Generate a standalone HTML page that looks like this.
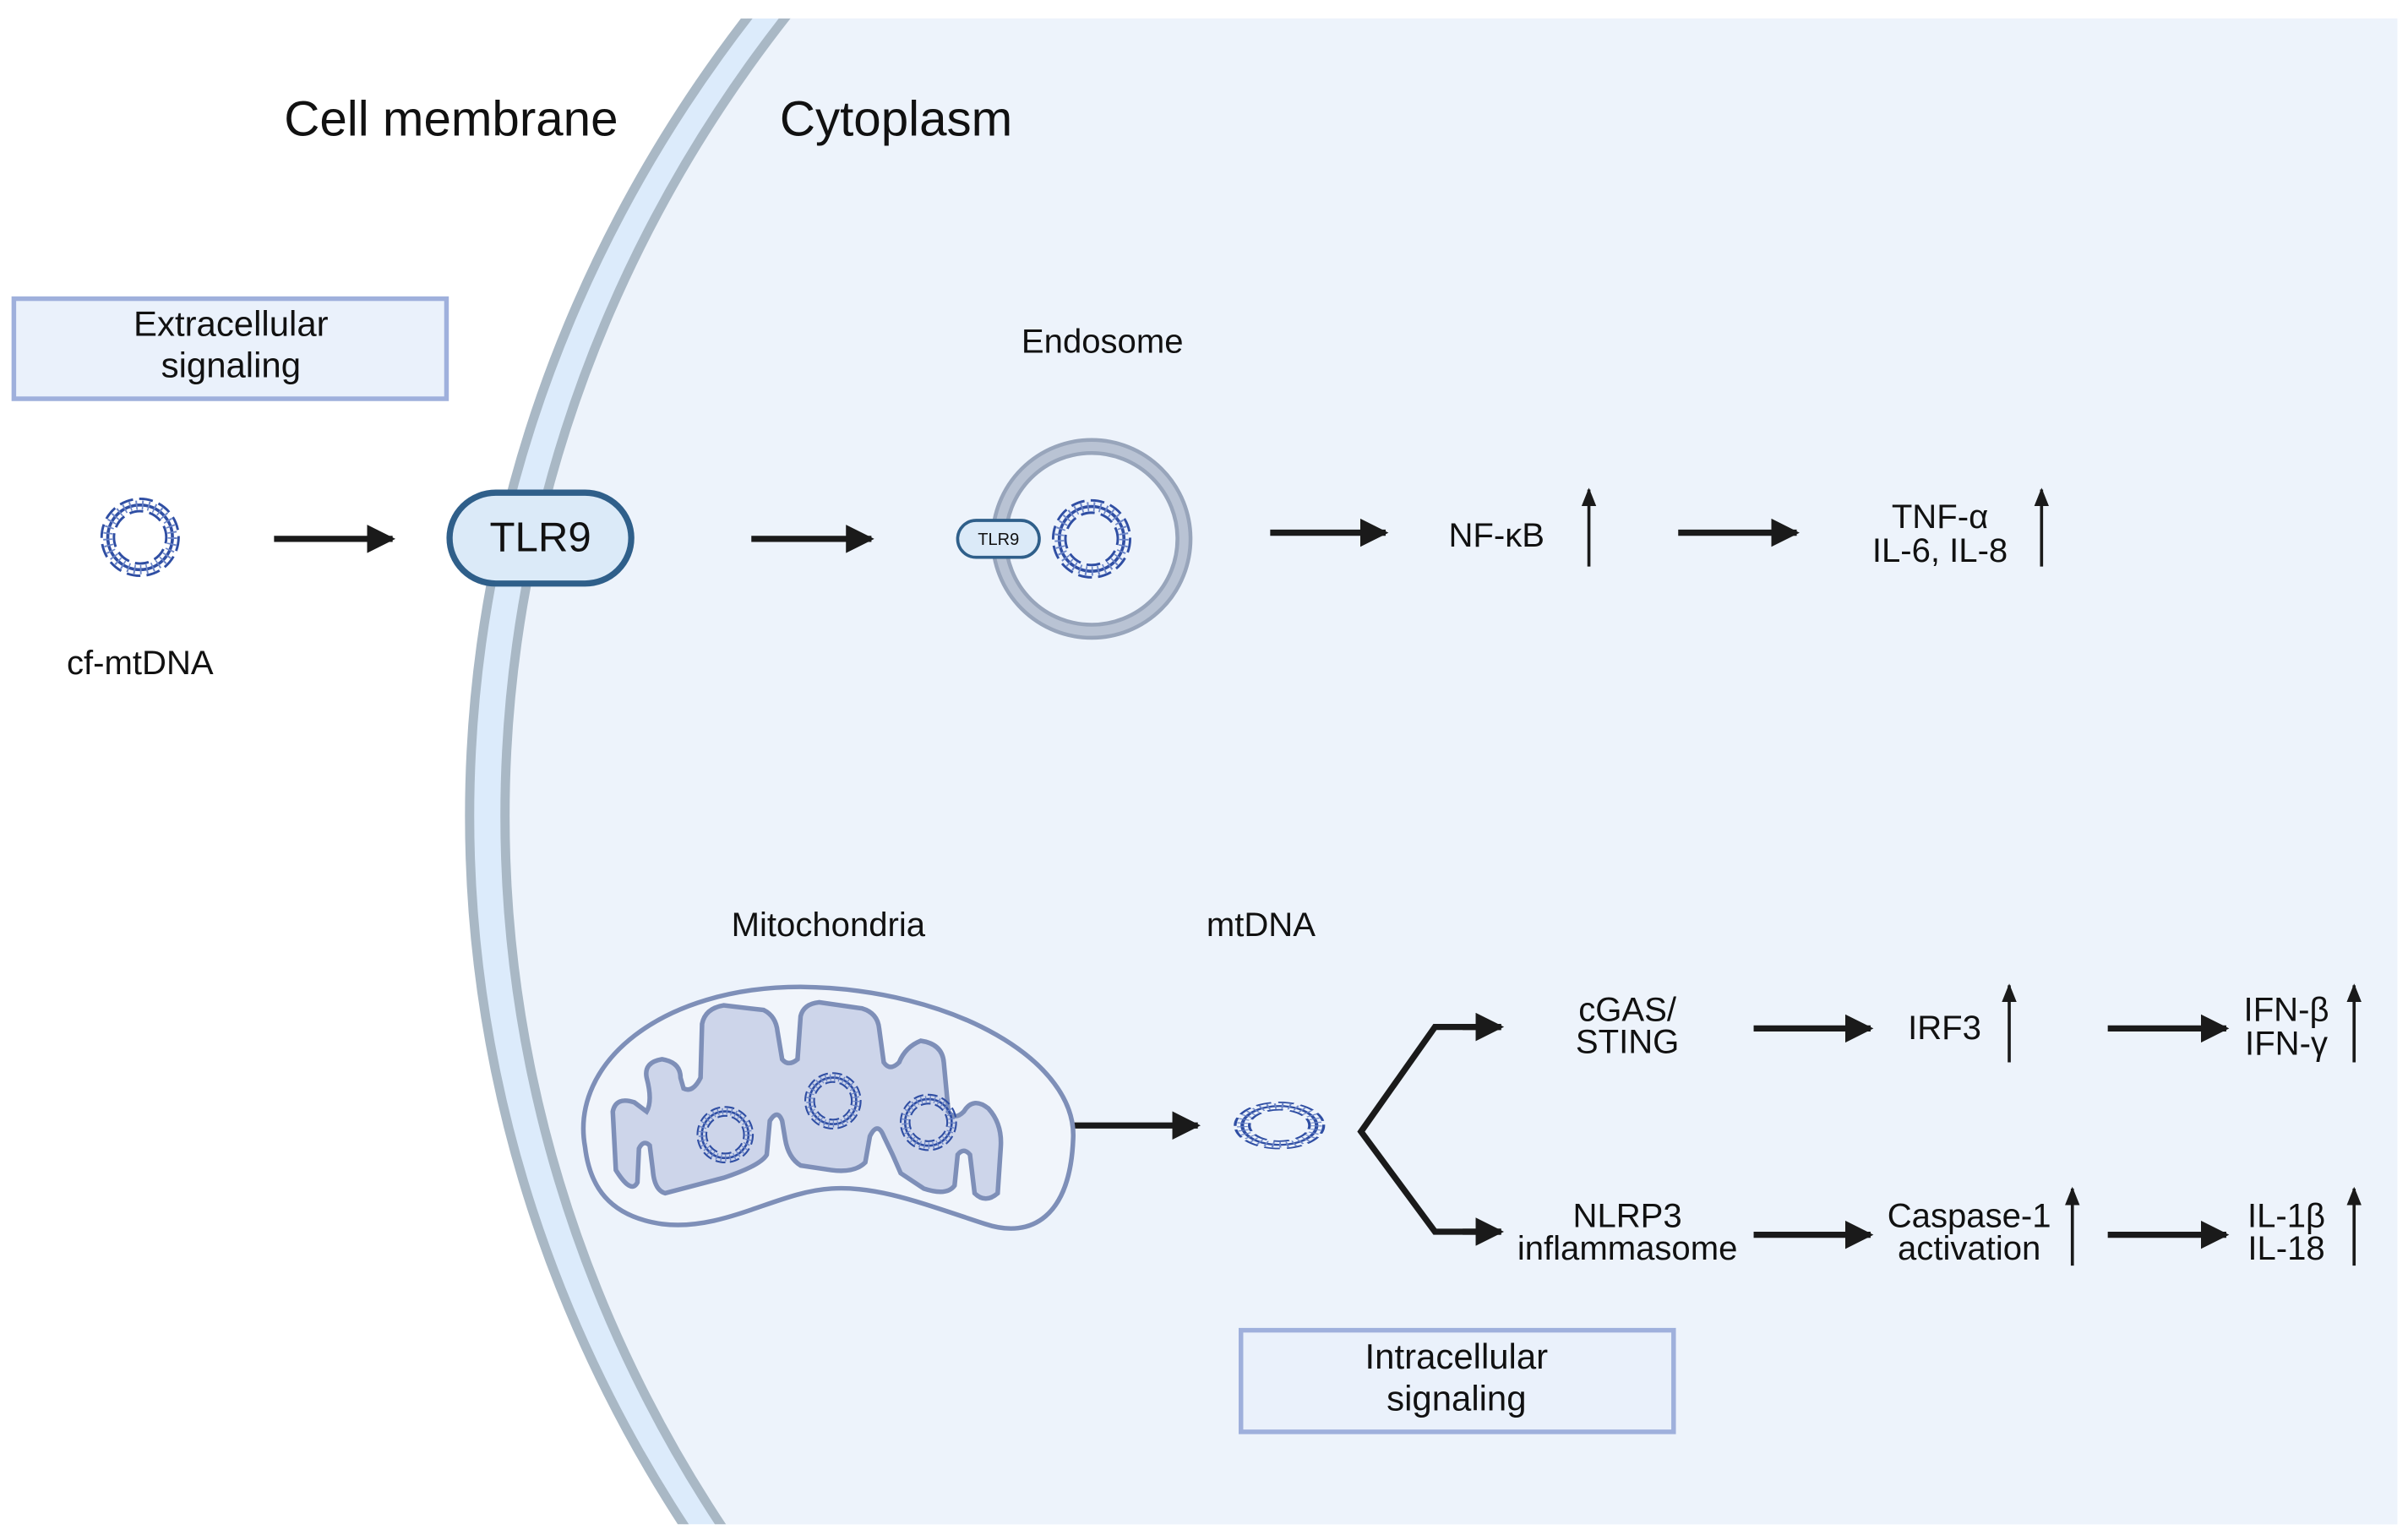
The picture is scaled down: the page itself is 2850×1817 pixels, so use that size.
<!DOCTYPE html>
<html><head><meta charset="utf-8"><style>
html,body{margin:0;padding:0;background:#fff;width:2850px;height:1817px;overflow:hidden;}
svg{display:block;}
text{font-family:"Liberation Sans",Arial,sans-serif;fill:#111;}
</style></head><body>
<svg width="2850" height="1817" viewBox="0 0 1564 997" preserveAspectRatio="none" xmlns="http://www.w3.org/2000/svg">
<defs>
<clipPath id="c"><rect x="0" y="12" width="1557" height="978"/></clipPath>
<marker id="ah" viewBox="0 0 10 10" refX="9" refY="5" markerWidth="4.6" markerHeight="4.6" orient="auto"><path d="M0,0 L10,5 L0,10 Z" fill="#1a1a1a"/></marker>
<marker id="uh" viewBox="0 0 10 10" refX="9" refY="5" markerWidth="6" markerHeight="7" orient="auto"><path d="M0,1 L10,5 L0,9 Z" fill="#1a1a1a"/></marker>
<g id="dna">
<circle r="21" fill="none" stroke="#2f4ea3" stroke-width="2"/>
<circle r="25" fill="none" stroke="#2f4ea3" stroke-width="1.6" stroke-dasharray="9 4"/>
<circle r="17" fill="none" stroke="#2f4ea3" stroke-width="1.6" stroke-dasharray="9 4" stroke-dashoffset="5"/>
<circle r="21" fill="none" stroke="#6d86c7" stroke-width="6" stroke-dasharray="1 3"/>
</g>
</defs>
<g clip-path="url(#c)">
<ellipse cx="1300" cy="530" rx="995" ry="903" fill="#dcebfb" stroke="#a9b8c5" stroke-width="6"/>
<ellipse cx="1300" cy="530" rx="972" ry="890" fill="#edf3fb" stroke="#a9b8c5" stroke-width="6"/>
</g>
<text x="293" y="88" font-size="32" text-anchor="middle">Cell membrane</text>
<text x="582" y="88" font-size="32" text-anchor="middle">Cytoplasm</text>
<rect x="9" y="194" width="281" height="65" fill="#eaf1fb" stroke="#9fb0dc" stroke-width="3"/>
<text x="150" y="218" font-size="23" text-anchor="middle">Extracellular</text>
<text x="150" y="245" font-size="23" text-anchor="middle">signaling</text>
<use href="#dna" transform="translate(91,349)"/>
<text x="91" y="438" font-size="22" text-anchor="middle">cf-mtDNA</text>
<g stroke="#1a1a1a" stroke-width="4" fill="none" marker-end="url(#ah)">
<line x1="178" y1="350" x2="255" y2="350"/>
<line x1="488" y1="350" x2="566" y2="350"/>
<line x1="825" y1="346" x2="900" y2="346"/>
<line x1="1090" y1="346" x2="1167" y2="346"/>
<line x1="665" y1="731" x2="778" y2="731"/>
<polyline points="975,667 932,667 884,735 932,800 975,800" stroke-width="4" marker-end="none"/>
<line x1="950" y1="667" x2="975" y2="667"/>
<line x1="950" y1="800" x2="975" y2="800"/>
<line x1="1139" y1="668" x2="1215" y2="668"/>
<line x1="1369" y1="668" x2="1446" y2="668"/>
<line x1="1139" y1="802" x2="1215" y2="802"/>
<line x1="1369" y1="802" x2="1446" y2="802"/>
</g>
<g stroke="#1a1a1a" stroke-width="2" fill="none" marker-end="url(#uh)">
<line x1="1032" y1="368" x2="1032" y2="318"/>
<line x1="1326" y1="368" x2="1326" y2="318"/>
<line x1="1305" y1="690" x2="1305" y2="640"/>
<line x1="1529" y1="690" x2="1529" y2="640"/>
<line x1="1346" y1="822" x2="1346" y2="772"/>
<line x1="1529" y1="822" x2="1529" y2="772"/>
</g>
<rect x="292" y="320" width="118" height="59" rx="30" fill="#dbeaf8" stroke="#2f5f8a" stroke-width="4"/>
<text x="351" y="358" font-size="27" text-anchor="middle">TLR9</text>
<text x="716" y="229" font-size="22" text-anchor="middle">Endosome</text>
<circle cx="709" cy="350" r="60" fill="none" stroke="#98a5bb" stroke-width="11"/>
<circle cx="709" cy="350" r="60" fill="none" stroke="#b9c3d4" stroke-width="6"/>
<rect x="622" y="338" width="53" height="24" rx="12" fill="#dbeaf8" stroke="#2f5f8a" stroke-width="2"/>
<text x="648.5" y="354" font-size="11" text-anchor="middle">TLR9</text>
<use href="#dna" transform="translate(709,350)"/>
<text x="972" y="355" font-size="22" text-anchor="middle">NF-κB</text>
<text x="1260" y="343" font-size="22" text-anchor="middle">TNF-α</text>
<text x="1260" y="365" font-size="22" text-anchor="middle">IL-6, IL-8</text>
<text x="538" y="608" font-size="22" text-anchor="middle">Mitochondria</text>
<text x="819" y="608" font-size="22" text-anchor="middle">mtDNA</text>
<path d="M380,745 C370,690 430,641 520,641 C620,642 700,690 697,740 C695,790 670,805 640,795 C600,782 570,770 540,772 C505,774 470,800 430,795 C395,790 383,770 380,745 Z" fill="#f1f5fb" stroke="#7e8fb8" stroke-width="3"/>
<path d="M400,760 L398,722 Q400,712 412,716 L420,722 Q424,715 420,700 Q418,690 430,688 Q442,690 442,700 L444,707 Q450,710 455,700 L456,665 Q458,655 470,653 L496,656 Q504,660 505,670 L508,688 Q512,693 518,688 L520,660 Q522,652 532,651 L560,655 Q570,658 571,668 L574,690 Q578,696 584,690 Q588,680 598,676 Q612,678 613,690 L616,722 Q620,728 626,722 Q632,712 642,720 Q651,730 650,745 L648,775 Q640,782 633,775 L630,750 Q626,745 622,750 L620,770 Q615,777 600,772 L585,762 Q580,750 574,738 Q570,728 565,738 L562,755 Q555,762 540,760 L520,757 Q512,752 510,740 L508,728 Q505,720 500,728 L498,750 Q494,757 470,765 L432,775 Q425,773 424,760 L422,744 Q418,740 415,746 L414,768 Q410,776 400,760 Z" fill="#cdd5ea" stroke="#7e8fb8" stroke-width="3"/>
<use href="#dna" transform="translate(471,737) scale(0.72)"/>
<use href="#dna" transform="translate(541,715) scale(0.72)"/>
<use href="#dna" transform="translate(603,729) scale(0.72)"/>
<use href="#dna" transform="translate(831,731) scale(1.15,0.6)"/>
<text x="1057" y="663" font-size="22" text-anchor="middle">cGAS/</text>
<text x="1057" y="684" font-size="22" text-anchor="middle">STING</text>
<text x="1263" y="675" font-size="22" text-anchor="middle">IRF3</text>
<text x="1485" y="663" font-size="22" text-anchor="middle">IFN-β</text>
<text x="1485" y="685" font-size="22" text-anchor="middle">IFN-γ</text>
<text x="1057" y="797" font-size="22" text-anchor="middle">NLRP3</text>
<text x="1057" y="818" font-size="22" text-anchor="middle">inflammasome</text>
<text x="1279" y="797" font-size="22" text-anchor="middle">Caspase-1</text>
<text x="1279" y="818" font-size="22" text-anchor="middle">activation</text>
<text x="1485" y="797" font-size="22" text-anchor="middle">IL-1β</text>
<text x="1485" y="818" font-size="22" text-anchor="middle">IL-18</text>
<rect x="806" y="864" width="281" height="66" fill="#eaf1fb" stroke="#9fb0dc" stroke-width="3"/>
<text x="946" y="889" font-size="23" text-anchor="middle">Intracellular</text>
<text x="946" y="916" font-size="23" text-anchor="middle">signaling</text>
</svg>
</body></html>
